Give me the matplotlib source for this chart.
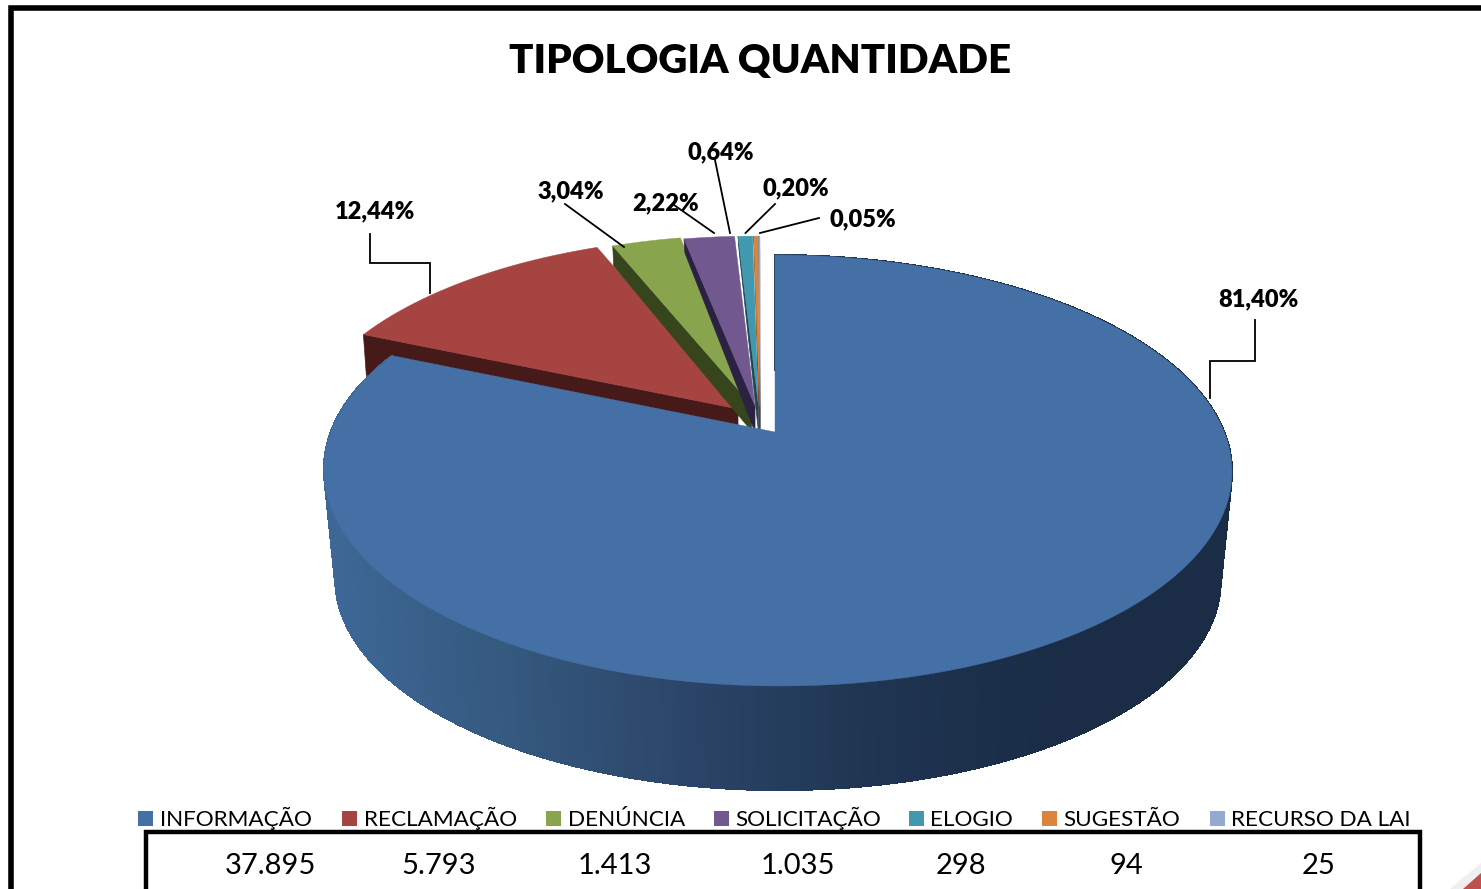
import numpy as np
import matplotlib
matplotlib.use("Agg")
import matplotlib.pyplot as plt
from matplotlib.collections import PolyCollection
from matplotlib.colors import LinearSegmentedColormap
from matplotlib.patches import Polygon, Rectangle

plt.rcParams['font.family'] = ['Lato', 'DejaVu Sans']

categories = ["INFORMAÇÃO", "RECLAMAÇÃO", "DENÚNCIA", "SOLICITAÇÃO", "ELOGIO", "SUGESTÃO", "RECURSO DA LAI"]
values = [37895, 5793, 1413, 1035, 298, 94, 25]
value_labels = ["37.895", "5.793", "1.413", "1.035", "298", "94", "25"]
pct_labels = ["81,40%", "12,44%", "3,04%", "2,22%", "0,64%", "0,20%", "0,05%"]

colors = ["#4570A6", "#A54441", "#88A54E", "#71588F", "#4198AF", "#DB843D", "#93A9CF"]
side_colors = ["#2A4568", "#451A18", "#37451C", "#2B2142", "#1B4654", "#7A4318", "#3A3F5C"]

# perspective disk -> pixel mapping
A, B, K = 446.7, 208.6, 0.1787
apex = [(775, 432), (738, 409), (751.5, 405), (755, 406), (758.5, 406), (759.5, 406), (760, 406)]
scale = [1.0, 0.975, 0.96, 0.96, 0.96, 0.96, 0.96]
skew = [2.5, 0, 0, 0, 0, 0, 0]
depth_a = [0, 20, 26, 26, 26, 26, 26]
depth_o = [0, 42, 20, 14, 14, 14, 14]
offset_o = [0, 3, 1, 1, 1, 1, 1]
label_xy = [(1258, 299), (375, 211), (571, 191), (666, 203), (721, 152), (796, 188), (863, 219)]
legend_sq_x = [138, 342, 546, 714, 909, 1042, 1210]
legend_tx_x = [160, 364, 568, 735, 930, 1063, 1231]
table_x = [270, 439, 615, 798, 961, 1126, 1319]
leaders = [[(1255, 320), (1255, 361), (1210, 361), (1210, 398)],
           [(370, 234), (370, 263), (430, 263), (430, 293)],
           [(565, 204), (624, 247)],
           [(674, 205), (714, 233)],
           [(715, 160), (730, 233)],
           [(775, 204), (745.5, 233)],
           [(819, 218), (760, 233)]]


def disk(theta, ap, s=1.0, dy=0.0, sk=0.0):
    u, v = np.sin(theta), np.cos(theta)
    d = 1 + K * v
    return np.column_stack((ap[0] + s * A * u / d + sk * (1 - v), ap[1] + dy - s * B * v / d))


fig = plt.figure(figsize=(14.81, 8.89), dpi=100, facecolor="white")
ax = fig.add_axes([0, 0, 1, 1])
ax.set_xlim(0, 1481)
ax.set_ylim(889, 0)
ax.axis("off")

frac = np.array(values, dtype=float) / sum(values)
edges = np.concatenate(([0.0], np.cumsum(frac))) * 2 * np.pi

# small exploded slices, left to right (red first)
for i in range(1, len(values)):
    t = np.linspace(edges[i], edges[i + 1], 80)
    rim = disk(t, apex[i], scale[i], sk=skew[i])
    ap = np.array(apex[i], dtype=float)
    face = np.array([ap, rim[0], rim[0] + [offset_o[i], depth_o[i]], ap + [0, depth_a[i]]])
    ax.add_patch(Polygon(face, closed=True, fc=side_colors[i], ec=side_colors[i], lw=0.5, zorder=2 + i))
    ax.add_patch(Polygon(np.vstack((ap, rim)), closed=True, fc=colors[i], ec=colors[i], lw=0.3, zorder=2 + i))

# blue slice: shaded rim strips
shade = LinearSegmentedColormap.from_list("rim", ["#3E6897", "#35597F", "#2B4568", "#1F3552", "#1A2C46", "#1A2C46"])
t = np.linspace(edges[0], edges[1], 500)
top = disk(t, apex[0], sk=skew[0])
bot = disk(t, apex[0], 0.975, 110.4, skew[0])
quads = [np.array([top[j], top[j + 1], bot[j + 1], bot[j]]) for j in range(len(t) - 1)]
pos = (np.array([q[:, 0].mean() for q in quads]) - 323) / (1232 - 323)
rim_cols = shade(pos)
ax.add_collection(PolyCollection(quads, facecolors=rim_cols, edgecolors=rim_cols,
                                 linewidths=0.8, antialiaseds=False, zorder=10))
ax.add_patch(Polygon(np.vstack((apex[0], top)), closed=True, fc=colors[0], ec=colors[0], lw=0.3, zorder=11))

# leader lines and labels
for pts in leaders:
    p = np.array(pts)
    ax.plot(p[:, 0], p[:, 1], color="black", lw=1.3, zorder=12, solid_joinstyle="miter")
for xy, s in zip(label_xy, pct_labels):
    ax.text(xy[0], xy[1], s, ha="center", va="center", fontsize=17, fontweight="heavy", color="black", zorder=13)

ax.text(760, 61, "TIPOLOGIA QUANTIDADE", ha="center", va="center", fontsize=29, fontweight="heavy", color="black", zorder=13)

# legend
for i, name in enumerate(categories):
    ax.add_patch(Rectangle((legend_sq_x[i], 811), 15, 15, fc=colors[i], ec="none", zorder=13))
    ax.text(legend_tx_x[i], 826, name, ha="left", va="baseline", fontsize=16.2, color="black", zorder=13)

# table values
for x, s in zip(table_x, value_labels):
    ax.text(x, 874, s, ha="center", va="baseline", fontsize=21, color="black", zorder=13)

# frames
ax.plot([10.5, 10.5, 1481], [889, 7.5, 7.5], color="black", lw=4, zorder=14, solid_joinstyle="miter")
ax.plot([146, 146, 1420, 1420], [889, 832, 832, 889], color="black", lw=3.2, zorder=14, solid_joinstyle="miter")

# decoration in the corner
ax.add_patch(Polygon([(1450, 889), (1481, 863), (1481, 873), (1463, 889)], closed=True, fc="#EFEFEF", ec="none", zorder=14))
ax.add_patch(Polygon([(1463, 889), (1481, 873), (1481, 889)], closed=True, fc="#C0504D", ec="none", zorder=14))

fig.savefig("out.png", dpi=100)
